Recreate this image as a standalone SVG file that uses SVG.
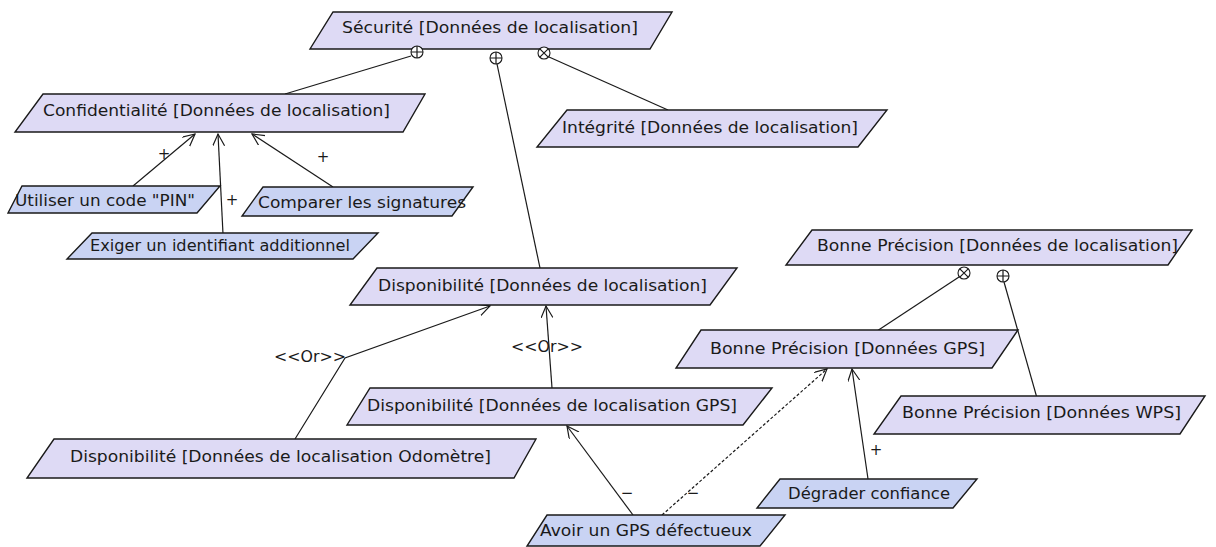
<svg xmlns="http://www.w3.org/2000/svg" width="1216" height="547" viewBox="0 0 1216 547">
<style>
.p{fill:#dedaf5;stroke:#1a1a1a;stroke-width:1.4}
.b{fill:#c9d3f3;stroke:#1a1a1a;stroke-width:1.4}
.t{font-family:"DejaVu Sans","Liberation Sans",sans-serif;font-size:16px;fill:#1a1a1a}
.l{font-family:"DejaVu Sans","Liberation Sans",sans-serif;font-size:15px;fill:#1a1a1a}
.c{fill:none;stroke:#1a1a1a;stroke-width:1.2}
.d{fill:none;stroke:#1a1a1a;stroke-width:1.2;stroke-dasharray:3 2}
.dec{fill:#fff;stroke:#1a1a1a;stroke-width:1.1}
</style>
<defs>
<marker id="a" markerUnits="userSpaceOnUse" markerWidth="14" markerHeight="14" refX="12" refY="6" orient="auto">
<path d="M0,0 L12,6 L0,12" fill="none" stroke="#1a1a1a" stroke-width="1.2"/>
</marker>
</defs>
<rect width="1216" height="547" fill="#ffffff"/>

<g id="connectors">
<line class="c" x1="411" y1="56" x2="285" y2="94"/>
<line class="c" x1="497" y1="64" x2="540" y2="268"/>
<line class="c" x1="549" y1="57" x2="668" y2="110"/>
<line class="c" x1="133" y1="186" x2="195" y2="134" marker-end="url(#a)"/>
<line class="c" x1="223" y1="234" x2="218" y2="134" marker-end="url(#a)"/>
<line class="c" x1="333" y1="187" x2="252" y2="134" marker-end="url(#a)"/>
<line class="c" x1="552" y1="388" x2="546" y2="306" marker-end="url(#a)"/>
<polyline class="c" points="295,439 345,358 490,306" marker-end="url(#a)"/>
<line class="c" x1="959" y1="277" x2="877" y2="331"/>
<line class="c" x1="1004" y1="282" x2="1037" y2="398"/>
<line class="c" x1="868" y1="479" x2="852" y2="369" marker-end="url(#a)"/>
<line class="c" x1="633" y1="515" x2="567" y2="426" marker-end="url(#a)"/>
<line class="d" x1="662" y1="515" x2="827" y2="369" marker-end="url(#a)"/>
<text class="l" x="164" y="159" text-anchor="middle">+</text>
<text class="l" x="232" y="205" text-anchor="middle">+</text>
<text class="l" x="323" y="162" text-anchor="middle">+</text>
<text class="l" x="547" y="352" text-anchor="middle" textLength="72" lengthAdjust="spacingAndGlyphs">&lt;&lt;Or&gt;&gt;</text>
<text class="l" x="310" y="362" text-anchor="middle" textLength="72" lengthAdjust="spacingAndGlyphs">&lt;&lt;Or&gt;&gt;</text>
<text class="l" x="876" y="455" text-anchor="middle">+</text>
<text class="l" x="627" y="498" text-anchor="middle">−</text>
<text class="l" x="693" y="498" text-anchor="middle">−</text>
</g>

<g id="n-securite">
<polygon class="p" points="333,12 672,12 650,49 310,49"/>
<text class="t" x="342" y="33" textLength="296" lengthAdjust="spacingAndGlyphs">Sécurité [Données de localisation]</text>
<circle class="dec" cx="417" cy="52" r="6"/>
<path class="c" d="M411,52 H423 M417,46 V58"/>
<circle class="dec" cx="496" cy="58" r="6"/>
<path class="c" d="M490,58 H502 M496,52 V64"/>
<circle class="dec" cx="544" cy="53" r="6"/>
<path class="c" d="M539.8,48.8 L548.2,57.2 M548.2,48.8 L539.8,57.2"/>
</g>

<g id="n-confidentialite">
<polygon class="p" points="43,94 425,94 403,132 15,132"/>
<text class="t" x="43" y="116" textLength="347" lengthAdjust="spacingAndGlyphs">Confidentialité [Données de localisation]</text>
</g>

<g id="n-integrite">
<polygon class="p" points="567,110 887,110 858,147 537,147"/>
<text class="t" x="562" y="133" textLength="296" lengthAdjust="spacingAndGlyphs">Intégrité [Données de localisation]</text>
</g>

<g id="n-pin">
<polygon class="b" points="22,186 220,186 197,213 8,213"/>
<text class="t" x="15" y="206" textLength="180" lengthAdjust="spacingAndGlyphs">Utiliser un code "PIN"</text>
</g>

<g id="n-signatures">
<polygon class="b" points="263,187 473,187 452,216 242,216"/>
<text class="t" x="258" y="208" textLength="208" lengthAdjust="spacingAndGlyphs">Comparer les signatures</text>
</g>

<g id="n-identifiant">
<polygon class="b" points="92,233 378,233 353,259 67,259"/>
<text class="t" x="90" y="251" textLength="260" lengthAdjust="spacingAndGlyphs">Exiger un identifiant additionnel</text>
</g>

<g id="n-disponibilite">
<polygon class="p" points="377,268 737,268 710,305 350,305"/>
<text class="t" x="378" y="291" textLength="329" lengthAdjust="spacingAndGlyphs">Disponibilité [Données de localisation]</text>
</g>

<g id="n-disp-gps">
<polygon class="p" points="370,388 772,388 743,425 347,425"/>
<text class="t" x="367" y="411" textLength="370" lengthAdjust="spacingAndGlyphs">Disponibilité [Données de localisation GPS]</text>
</g>

<g id="n-disp-odometre">
<polygon class="p" points="54,439 536,439 514,478 27,478"/>
<text class="t" x="70" y="462" textLength="421" lengthAdjust="spacingAndGlyphs">Disponibilité [Données de localisation Odomètre]</text>
</g>

<g id="n-bp-loc">
<polygon class="p" points="812,230 1192,230 1168,265 786,265"/>
<text class="t" x="817" y="251" textLength="361" lengthAdjust="spacingAndGlyphs">Bonne Précision [Données de localisation]</text>
<circle class="dec" cx="964" cy="273" r="6"/>
<path class="c" d="M959.8,268.8 L968.2,277.2 M968.2,268.8 L959.8,277.2"/>
<circle class="dec" cx="1003" cy="276" r="6"/>
<path class="c" d="M997,276 H1009 M1003,270 V282"/>
</g>

<g id="n-bp-gps">
<polygon class="p" points="701,330 1018,330 992,368 676,368"/>
<text class="t" x="710" y="354" textLength="275" lengthAdjust="spacingAndGlyphs">Bonne Précision [Données GPS]</text>
</g>

<g id="n-bp-wps">
<polygon class="p" points="901,396 1205,396 1180,434 874,434"/>
<text class="t" x="902" y="418" textLength="279" lengthAdjust="spacingAndGlyphs">Bonne Précision [Données WPS]</text>
</g>

<g id="n-degrader">
<polygon class="b" points="780,479 977,479 953,508 757,508"/>
<text class="t" x="788" y="499" textLength="162" lengthAdjust="spacingAndGlyphs">Dégrader confiance</text>
</g>

<g id="n-gps-defectueux">
<polygon class="b" points="547,515 785,515 760,546 527,546"/>
<text class="t" x="540" y="536" textLength="212" lengthAdjust="spacingAndGlyphs">Avoir un GPS défectueux</text>
</g>
</svg>
